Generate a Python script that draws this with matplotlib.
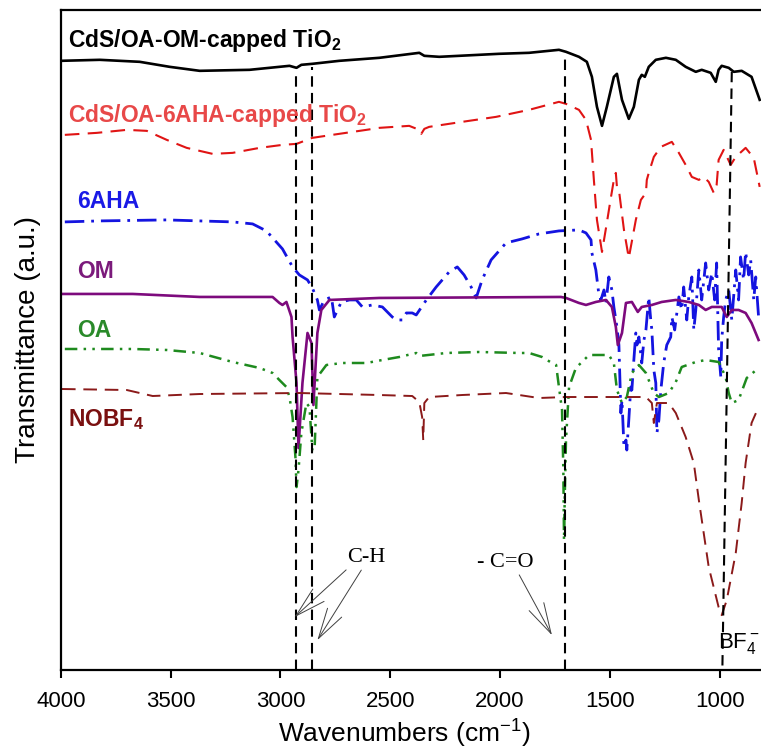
import matplotlib
matplotlib.use("Agg")
from matplotlib import pyplot as plt

plt.rcParams["font.family"] = ["Liberation Sans", "DejaVu Sans"]
plt.rcParams["mathtext.fontset"] = "custom"
plt.rcParams["mathtext.rm"] = "Liberation Sans"
plt.rcParams["mathtext.bf"] = "Liberation Sans:bold"

# spectra (wavenumber in cm-1, transmittance in a.u.)
wn_cds_om = [4000, 3823, 3641, 3505, 3368, 3141, 2959, 2927, 2905, 2855, 2732, 2550, 2368, 2345,
             2277, 2005, 1868, 1732, 1700, 1641, 1605, 1582, 1559, 1536, 1514, 1482, 1468, 1445,
             1414, 1391, 1368, 1355, 1341, 1323, 1291, 1245, 1200, 1155, 1109, 1082, 1041, 1018,
             1005, 991, 959, 936, 900, 855, 818]
t_cds_om = [609, 610, 608, 603, 599, 600, 604, 602, 605, 606, 609, 612, 617, 614,
            613, 616, 617, 620, 618, 613, 608, 593, 563, 544, 563, 593, 596, 570,
            551, 563, 590, 595, 593, 603, 610, 612, 610, 603, 598, 600, 597, 588,
            600, 604, 602, 598, 599, 593, 570]

wn_cds_6aha = [3982, 3836, 3700, 3609, 3518, 3427, 3309, 3218, 3095, 2991, 2927, 2855, 2764, 2609,
               2550, 2414, 2368, 2359, 2345, 2323, 2173, 2018, 1868, 1732, 1700, 1641, 1609, 1586,
               1573, 1559, 1536, 1514, 1495, 1482, 1473, 1468, 1459, 1436, 1414, 1382, 1359, 1336,
               1332, 1323, 1300, 1268, 1218, 1186, 1155, 1127, 1095, 1073, 1050, 1027, 1014, 1005,
               982, 950, 927, 882, 845, 818]
t_cds_6aha = [535, 537, 540, 539, 530, 522, 516, 517, 522, 525, 526, 532, 535, 540,
              542, 544, 540, 536, 541, 543, 548, 553, 560, 568, 566, 560, 550, 530,
              490, 450, 418, 447, 473, 490, 497, 483, 480, 440, 412, 450, 470, 477,
              490, 497, 513, 523, 528, 517, 505, 493, 490, 493, 488, 477, 485, 510,
              520, 505, 513, 522, 512, 483]

wn_6aha = [3982, 3823, 3518, 3368, 3218, 3127, 3064, 2991, 2945, 2914, 2877, 2855, 2832, 2823,
           2800, 2768, 2755, 2723, 2686, 2655, 2627, 2582, 2536, 2491, 2473, 2445, 2427, 2400,
           2382, 2336, 2291, 2232, 2195, 2164, 2132, 2109, 2082, 2041, 1973, 1900, 1823, 1732,
           1641, 1609, 1586, 1582, 1564, 1550, 1541, 1527, 1518, 1505, 1491, 1482, 1468, 1459,
           1450, 1445, 1436, 1427, 1423, 1414, 1405, 1400, 1391, 1382, 1377, 1368, 1355, 1345,
           1336, 1323, 1314, 1309, 1300, 1291, 1286, 1277, 1268, 1255, 1245, 1241, 1223, 1218,
           1205, 1186, 1173, 1164, 1150, 1141, 1127, 1118, 1109, 1095, 1082, 1064, 1050, 1036,
           1023, 1014, 1005, 995, 991, 982, 973, 959, 945, 927, 914, 905, 891, 882,
           868, 859, 845, 836, 823]
t_6aha = [448, 449, 450, 449, 448, 446, 439, 421, 403, 395, 390, 382, 370, 360,
          370, 373, 353, 368, 370, 370, 363, 365, 363, 353, 350, 350, 357, 357,
          355, 370, 383, 398, 403, 395, 383, 372, 390, 410, 427, 431, 436, 439,
          440, 437, 430, 417, 400, 375, 370, 380, 367, 393, 380, 363, 343, 325,
          257, 270, 223, 230, 220, 250, 283, 280, 310, 337, 325, 333, 307, 330,
          340, 373, 350, 340, 300, 287, 237, 250, 280, 307, 320, 325, 333, 353,
          340, 373, 360, 383, 350, 373, 393, 340, 360, 400, 370, 407, 380, 397,
          370, 407, 320, 293, 330, 353, 370, 380, 350, 400, 370, 413, 390, 418,
          395, 410, 370, 393, 353]

wn_om = [3995, 3673, 3368, 3036, 3005, 2991, 2973, 2950, 2945, 2927, 2918, 2900, 2877, 2859,
         2850, 2832, 2814, 2777, 2550, 1723, 1700, 1641, 1609, 1564, 1518, 1491, 1473, 1464,
         1445, 1427, 1400, 1373, 1355, 1309, 1264, 1200, 1141, 1095, 1064, 1036, 991, 968,
         945, 914, 882, 855, 823]
t_om = [376, 376, 373, 373, 367, 365, 368, 353, 333, 287, 222, 287, 337, 327,
        265, 337, 360, 370, 372, 373, 372, 367, 365, 368, 370, 363, 343, 325,
        337, 367, 368, 358, 363, 365, 368, 370, 368, 365, 360, 363, 363, 353,
        360, 360, 357, 347, 330]

wn_oa = [3982, 3673, 3518, 3368, 3218, 3095, 3036, 3005, 2973, 2959, 2945, 2932, 2927, 2918,
         2905, 2882, 2868, 2855, 2845, 2832, 2791, 2718, 2609, 2536, 2459, 2382, 2368, 2245,
         2095, 1914, 1868, 1809, 1764, 1745, 1732, 1718, 1712, 1709, 1705, 1700, 1686, 1655,
         1595, 1505, 1482, 1468, 1445, 1423, 1400, 1368, 1336, 1300, 1277, 1232, 1200, 1173,
         1109, 1064, 1005, 973, 959, 945, 914, 877, 823]
t_oa = [321, 321, 320, 317, 308, 302, 297, 290, 283, 273, 253, 213, 183, 200,
        237, 267, 263, 220, 220, 293, 305, 307, 307, 310, 313, 317, 314, 317,
        318, 317, 317, 313, 307, 305, 283, 260, 200, 130, 180, 230, 283, 302,
        315, 315, 307, 280, 267, 273, 297, 305, 297, 277, 273, 277, 288, 303,
        308, 310, 308, 293, 277, 267, 270, 292, 302]

wn_nobf4 = [3995, 3700, 3641, 3582, 3368, 2914, 2550, 2400, 2368, 2355, 2350, 2345, 2323, 2173,
            1973, 1823, 1700, 1491, 1336, 1309, 1300, 1286, 1232, 1200, 1155, 1118, 1095, 1050,
            1005, 991, 968, 927, 900, 882, 855, 823]
t_nobf4 = [281, 280, 277, 274, 276, 277, 275, 274, 268, 253, 230, 267, 273, 275,
           277, 272, 273, 273, 273, 267, 247, 267, 267, 257, 233, 207, 170, 103,
           63, 55, 70, 117, 167, 207, 247, 263]

fig = plt.figure(figsize=(7.61, 7.53), dpi=100)
ax = fig.add_axes([0.080, 0.110, 0.920, 0.877])

ax.plot(wn_cds_om, t_cds_om, color="black", lw=1.9)
ax.plot(wn_cds_6aha, t_cds_6aha, color="#e01414", lw=1.5, dashes=(7, 4))
ax.plot(wn_6aha, t_6aha, color="#1414e0", lw=2.0, dashes=(7, 2.5, 1, 2.5))
ax.plot(wn_om, t_om, color="#7d0a7d", lw=1.9)
ax.plot(wn_oa, t_oa, color="#1e8a1e", lw=1.8, dashes=(5, 2.5, 1, 2.5, 1, 2.5))
ax.plot(wn_nobf4, t_nobf4, color="#8b1a1a", lw=1.4, dashes=(7, 4))

# marker lines
ax.plot([2930, 2930], [0, 597], color="black", lw=1.5, dashes=(5, 3))
ax.plot([2855, 2855], [0, 603], color="black", lw=1.5, dashes=(5, 3))
ax.plot([1705, 1705], [0, 612], color="black", lw=1.5, dashes=(5, 3))
ax.plot([945, 988], [598, 0], color="black", lw=1.5, dashes=(5, 3))

lab = dict(fontsize=16.5, fontweight="bold", va="baseline", ha="left")
ax.text(3968, 623, "CdS/OA-OM-capped TiO$_\\mathbf{2}$", color="black", **lab)
ax.text(3968, 548, "CdS/OA-6AHA-capped TiO$_\\mathbf{2}$", color="#e84848", **lab)
ax.text(3927, 462, "6AHA", color="#1a1ae6", **lab)
ax.text(3927, 392, "OM", color="#7b1a7b", **lab)
ax.text(3927, 333, "OA", color="#2a8a2a", **lab)
ax.text(3968, 244, "NOBF$_\\mathbf{4}$", color="#7a1010", **lab)

arr = dict(arrowstyle="->,head_length=2.2,head_width=0.6", color="#404040",
           lw=0.7, mutation_scale=10, shrinkA=0, shrinkB=0)
ax.annotate("C-H", xy=(2936, 53), xytext=(2696, 108), fontsize=16,
            family="Liberation Serif", va="baseline", ha="left",
            arrowprops=dict(arr, relpos=(0.05, 0)))
ax.annotate("", xy=(2832, 30), xytext=(2632, 100), arrowprops=arr)
ax.annotate("- C=O", xy=(1764, 35), xytext=(2105, 103), fontsize=16,
            family="Liberation Serif", va="baseline", ha="left",
            arrowprops=dict(arr, relpos=(0.72, 0)))
ax.text(1010, 22, "BF$_4^-$", fontsize=16, va="baseline", ha="left")

ax.set_xlim(4000, 812)
ax.set_ylim(0, 660)
ax.set_xticks([4000, 3500, 3000, 2500, 2000, 1500, 1000])
ax.set_yticks([])
ax.tick_params(axis="x", direction="out", length=6, width=1.5, labelsize=16, pad=9)
for s in ["left", "top", "bottom"]:
    ax.spines[s].set_linewidth(1.6)
ax.spines["right"].set_visible(False)

ax.set_xlabel("Wavenumbers (cm$^{-1}$)", fontsize=19, labelpad=3)
ax.xaxis.label.set_x(0.49)
ax.set_ylabel("Transmittance (a.u.)", fontsize=20, labelpad=14)

fig.savefig("out.png", dpi=100)
